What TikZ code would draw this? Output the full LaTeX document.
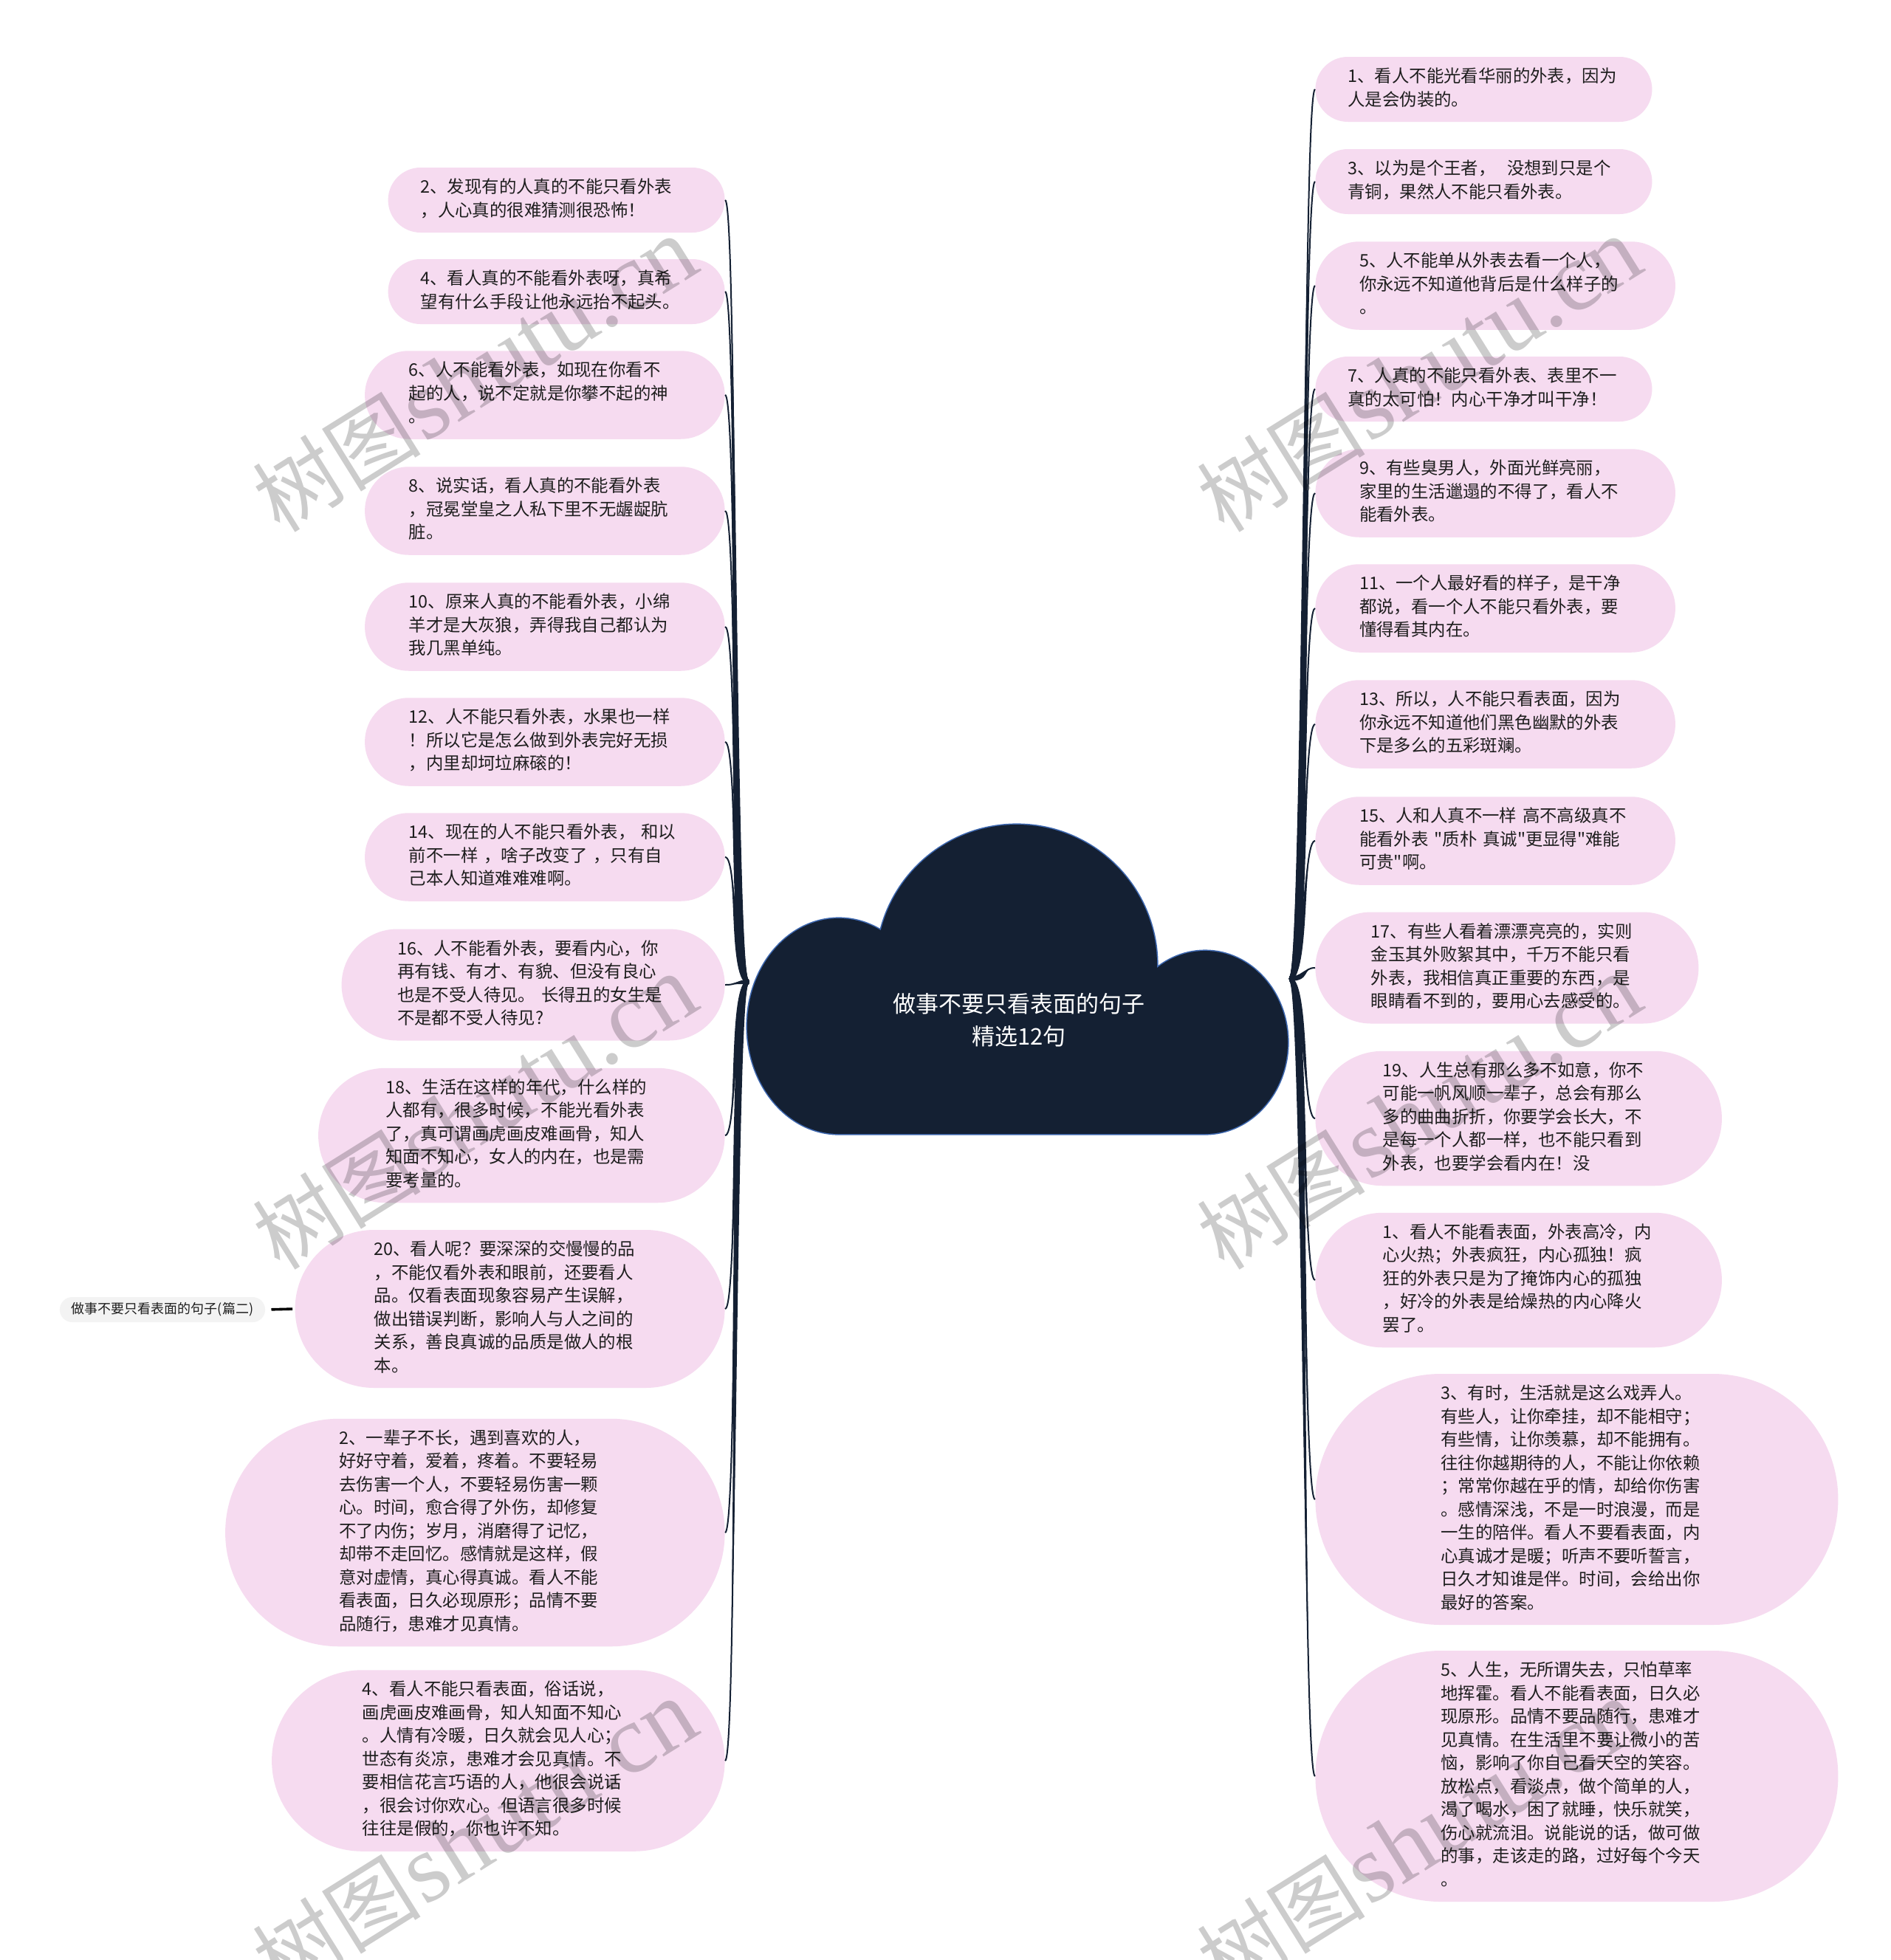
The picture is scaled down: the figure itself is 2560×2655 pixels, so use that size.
\documentclass[tikz,border=0pt]{standalone}
\usepackage{fontspec}
\setmainfont{Noto Sans CJK SC}
\newfontfamily\cjk{Noto Sans CJK SC}
\newfontfamily\wmserif{Liberation Serif}
\usetikzlibrary{calc}
\definecolor{pinkc}{RGB}{246,219,240}
\definecolor{navy}{RGB}{20,32,51}
\definecolor{cloudline}{RGB}{62,104,176}
\definecolor{txtc}{RGB}{30,30,30}
\definecolor{sidec}{RGB}{243,243,243}
\newcommand\leaffont{\cjk\fontsize{11.7pt}{15.75pt}\selectfont}
\newcommand\rootfont{\cjk\fontsize{15.5pt}{22pt}\selectfont}
\newcommand\sidefont{\cjk\fontsize{9pt}{11pt}\selectfont}
\newcommand\wmtext{{\cjk\fontsize{57pt}{60pt}\selectfont 树图}\,{\wmserif\fontsize{66pt}{70pt}\selectfont shutu.cn}}
\newcommand\linkL[3]{%
  \fill[navy] ($(cw)+(0,#2)$) .. controls ($(cw)+(-30,#2)$) and ($(#1.east)+(18,0)$) .. (#1.east)
     .. controls ($(#1.east)+(16,0)$) and ($(cw)+(-17,#3)$) .. ($(cw)+(0,#3)$) -- cycle;
  \draw[navy,line width=1pt] (cw) .. controls ($(cw)+(-23,0)$) and ($(#1.east)+(17,0)$) .. (#1.east);}
\newcommand\linkR[3]{%
  \fill[navy] ($(ce)+(0,#2)$) .. controls ($(ce)+(30,#2)$) and ($(#1.west)+(-18,0)$) .. (#1.west)
     .. controls ($(#1.west)+(-16,0)$) and ($(ce)+(17,#3)$) .. ($(ce)+(0,#3)$) -- cycle;
  \draw[navy,line width=1pt] (ce) .. controls ($(ce)+(23,0)$) and ($(#1.west)+(-17,0)$) .. (#1.west);}
\tikzset{
  leaf/.style={rectangle, fill=pinkc, text=txtc, text width=184pt, align=left,
    inner xsep=#1, rounded corners=#1, inner ysep=6.25pt, font=\leaffont,
    execute at begin node=\strut, execute at end node=\strut},
  lleaf/.style={leaf=#1, anchor=east},
  rleaf/.style={leaf=#1, anchor=west},
  rootnode/.style={text=white, align=center, font=\rootfont},
  sidenode/.style={rectangle, rounded corners=8.5pt, fill=sidec, text=txtc, font=\sidefont,
    inner xsep=8pt, inner ysep=0pt, minimum height=17pt},
  sidelink/.style={draw=black, line width=1.8pt, shorten <=4pt, shorten >=1.5pt},
  wm/.style={rotate=32, text=black, text opacity=0.2, inner sep=0pt}
}
% half heights: 2 lines 22pt, 3: 29.875pt, 4: 37.75pt, 5: 45.625pt, 6: 53.5pt, 7: 61.375pt, 9: 77.125pt, 10: 85pt
\begin{document}
\begin{tikzpicture}[x=0.5pt,y=-0.5pt]
\useasboundingbox (0,0) rectangle (2560,2655);
\clip (0,0) rectangle (2560,2655);
\fill[white] (0,0) rectangle (2560,2655);

% cloud
\draw[cloudline, line width=1.6pt]
  (1136,1390) ellipse [x radius=62pt, y radius=73pt]
  (1377,1307) circle [radius=95pt]
  (1632,1412) ellipse [x radius=56pt, y radius=62pt]
  (1136,1390) rectangle (1632,1536);
\fill[navy]
  (1136,1390) ellipse [x radius=62pt, y radius=73pt]
  (1377,1307) circle [radius=95pt]
  (1632,1412) ellipse [x radius=56pt, y radius=62pt]
  (1136,1390) rectangle (1632,1536);
\node[rootnode] (root) at (1380,1382) {做事不要只看表面的句子\\精选12句};
\coordinate (cw) at (1014,1330);
\coordinate (ce) at (1746,1326);

% left leaves
\node[lleaf=22pt] (L1) at (982,271) {2、发现有的人真的不能只看外表\\，人心真的很难猜测很恐怖！};
\node[lleaf=22pt] (L2) at (982,395) {4、看人真的不能看外表呀，真希\\望有什么手段让他永远抬不起头。};
\node[lleaf=29.875pt] (L3) at (982,535) {6、人不能看外表，如现在你看不\\起的人，说不定就是你攀不起的神\\。};
\node[lleaf=29.875pt] (L4) at (982,692) {8、说实话，看人真的不能看外表\\，冠冕堂皇之人私下里不无龌龊肮\\脏。};
\node[lleaf=29.875pt] (L5) at (982,849) {10、原来人真的不能看外表，小绵\\羊才是大灰狼，弄得我自己都认为\\我几黑单纯。};
\node[lleaf=29.875pt] (L6) at (982,1005) {12、人不能只看外表，水果也一样\\！所以它是怎么做到外表完好无损\\，内里却坷垃麻磙的！};
\node[lleaf=29.875pt] (L7) at (982,1161) {14、现在的人不能只看外表，\ 和以\\前不一样 ，啥子改变了 ，只有自\\己本人知道难难难啊。};
\node[lleaf=37.75pt] (L8) at (982,1334) {16、人不能看外表，要看内心，你\\再有钱、有才、有貌、但没有良心\\也是不受人待见。 长得丑的女生是\\不是都不受人待见?};
\node[lleaf=45.625pt] (L9) at (982,1538) {18、生活在这样的年代，什么样的\\人都有，很多时候，不能光看外表\\了，真可谓画虎画皮难画骨，知人\\知面不知心，女人的内在，也是需\\要考量的。};
\node[lleaf=53.5pt] (L10) at (982,1773) {20、看人呢？要深深的交慢慢的品\\，不能仅看外表和眼前，还要看人\\品。仅看表面现象容易产生误解，\\做出错误判断，影响人与人之间的\\关系，善良真诚的品质是做人的根\\本。};
\node[lleaf=77.125pt] (L11) at (982,2076) {2、一辈子不长，遇到喜欢的人，\\好好守着，爱着，疼着。不要轻易\\去伤害一个人，不要轻易伤害一颗\\心。时间，愈合得了外伤，却修复\\不了内伤；岁月，消磨得了记忆，\\却带不走回忆。感情就是这样，假\\意对虚情，真心得真诚。看人不能\\看表面，日久必现原形；品情不要\\品随行，患难才见真情。};
\node[lleaf=61.375pt] (L12) at (982,2385) {4、看人不能只看表面，俗话说，\\画虎画皮难画骨，知人知面不知心\\。人情有冷暖，日久就会见人心；\\世态有炎凉，患难才会见真情。不\\要相信花言巧语的人，他很会说话\\，很会讨你欢心。但语言很多时候\\往往是假的，你也许不知。};

% right leaves
\node[rleaf=22pt] (R1) at (1781,121) {1、看人不能光看华丽的外表，因为\\人是会伪装的。};
\node[rleaf=22pt] (R2) at (1781,246) {3、以为是个王者，\ \ 没想到只是个\\青铜，果然人不能只看外表。};
\node[rleaf=29.875pt] (R3) at (1781,387) {5、人不能单从外表去看一个人，\\你永远不知道他背后是什么样子的\\。};
\node[rleaf=22pt] (R4) at (1781,527) {7、人真的不能只看外表、表里不一\\真的太可怕！内心干净才叫干净！};
\node[rleaf=29.875pt] (R5) at (1781,668) {9、有些臭男人，外面光鲜亮丽，\\家里的生活邋遢的不得了，看人不\\能看外表。};
\node[rleaf=29.875pt] (R6) at (1781,824) {11、一个人最好看的样子，是干净\\都说，看一个人不能只看外表，要\\懂得看其内在。};
\node[rleaf=29.875pt] (R7) at (1781,981) {13、所以，人不能只看表面，因为\\你永远不知道他们黑色幽默的外表\\下是多么的五彩斑斓。};
\node[rleaf=29.875pt] (R8) at (1781,1139) {15、人和人真不一样 高不高级真不\\能看外表 "质朴 真诚"更显得"难能\\可贵"啊。};
\node[rleaf=37.75pt] (R9) at (1781,1311) {17、有些人看着漂漂亮亮的，实则\\金玉其外败絮其中，千万不能只看\\外表，我相信真正重要的东西，是\\眼睛看不到的，要用心去感受的。};
\node[rleaf=45.625pt] (R10) at (1781,1515) {19、人生总有那么多不如意，你不\\可能一帆风顺一辈子，总会有那么\\多的曲曲折折，你要学会长大，不\\是每一个人都一样，也不能只看到\\外表，也要学会看内在！没};
\node[rleaf=45.625pt] (R11) at (1781,1734) {1、看人不能看表面，外表高冷，内\\心火热；外表疯狂，内心孤独！疯\\狂的外表只是为了掩饰内心的孤独\\，好冷的外表是给燥热的内心降火\\罢了。};
\node[rleaf=85pt] (R12) at (1781,2031) {3、有时，生活就是这么戏弄人。\\有些人，让你牵挂，却不能相守；\\有些情，让你羡慕，却不能拥有。\\往往你越期待的人，不能让你依赖\\；常常你越在乎的情，却给你伤害\\。感情深浅，不是一时浪漫，而是\\一生的陪伴。看人不要看表面，内\\心真诚才是暖；听声不要听誓言，\\日久才知谁是伴。时间，会给出你\\最好的答案。};
\node[rleaf=85pt] (R13) at (1781,2406) {5、人生，无所谓失去，只怕草率\\地挥霍。看人不能看表面，日久必\\现原形。品情不要品随行，患难才\\见真情。在生活里不要让微小的苦\\恼，影响了你自己看天空的笑容。\\放松点，看淡点，做个简单的人，\\渴了喝水，困了就睡，快乐就笑，\\伤心就流泪。说能说的话，做可做\\的事，走该走的路，过好每个今天\\。};

% side node
\node[sidenode] (P2) at (220,1774) {做事不要只看表面的句子(篇二)};
\draw[sidelink] (P2.east) -- (L10.west);

% connectors
\linkL{L1}{3}{-3}
\linkL{L2}{3}{-3}
\linkL{L3}{3}{-3}
\linkL{L4}{3}{-3}
\linkL{L5}{3}{-3}
\linkL{L6}{3}{-3}
\linkL{L7}{3}{-3}
\linkL{L8}{3}{-3}
\linkL{L9}{-3}{3}
\linkL{L10}{-3}{3}
\linkL{L11}{-3}{3}
\linkL{L12}{-3}{3}
\linkR{R1}{3}{-3}
\linkR{R2}{3}{-3}
\linkR{R3}{3}{-3}
\linkR{R4}{3}{-3}
\linkR{R5}{3}{-3}
\linkR{R6}{3}{-3}
\linkR{R7}{3}{-3}
\linkR{R8}{3}{-3}
\linkR{R9}{3}{-3}
\linkR{R10}{-3}{3}
\linkR{R11}{-3}{3}
\linkR{R12}{-3}{3}
\linkR{R13}{-3}{3}

% watermarks
\node[wm] (wm1) at (643,508) {\wmtext};
\node[wm] (wm2) at (643,1507) {\wmtext};
\node[wm] (wm3) at (643,2489) {\wmtext};
\node[wm] (wm4) at (1922,508) {\wmtext};
\node[wm] (wm5) at (1922,1507) {\wmtext};
\node[wm] (wm6) at (1922,2489) {\wmtext};
\end{tikzpicture}
\end{document}
